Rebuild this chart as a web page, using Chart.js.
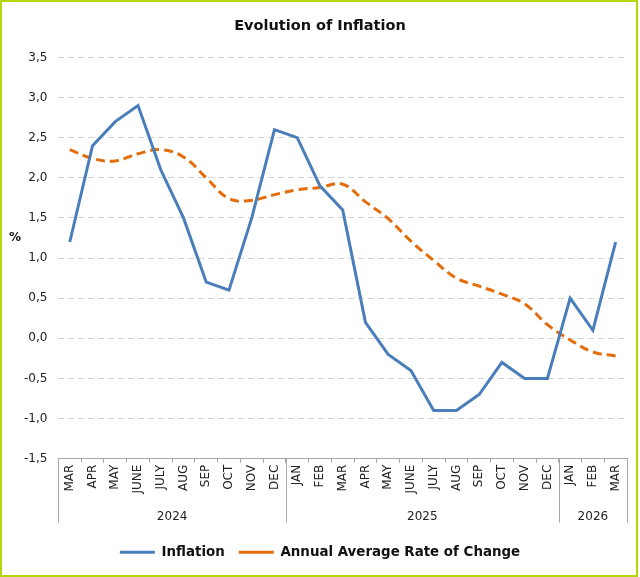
<!DOCTYPE html>
<html><head><meta charset="utf-8">
<script src="https://cdn.jsdelivr.net/npm/chart.js@4/dist/chart.umd.min.js"></script>
<style>html,body{margin:0;padding:0;background:#fff;overflow:hidden}#wrap{width:640px;height:577px;position:relative}</style>
</head><body><div id="wrap"><canvas id="c"></canvas></div>
<script>
const months = ['MAR','APR','MAY','JUNE','JULY','AUG','SEP','OCT','NOV','DEC','JAN','FEB','MAR','APR','MAY','JUNE','JULY','AUG','SEP','OCT','NOV','DEC','JAN','FEB','MAR'];
const yearLabels = ['2024','2025','2026'];
const yearSpans = [10,12,3];
const inflation = [1.2,2.4,2.7,2.9,2.1,1.5,0.7,0.6,1.5,2.6,2.5,1.9,1.6,0.2,-0.2,-0.4,-0.9,-0.9,-0.7,-0.3,-0.5,-0.5,0.5,0.1,1.2];
const annualAvg = [2.35,2.24,2.21,2.30,2.35,2.26,2.0,1.74,1.72,1.79,1.85,1.88,1.92,1.70,1.49,1.21,0.97,0.75,0.65,0.55,0.43,0.17,-0.02,-0.17,-0.22];
const yMin = -1.5, yMax = 3.5, yStep = 0.5;

const FONT = '"DejaVu Sans", Verdana, sans-serif';

const decor = {
  id: 'decor',
  beforeDraw(chart) {
    const ctx = chart.ctx;
    ctx.save();
    ctx.fillStyle = '#fff';
    ctx.fillRect(0, 0, chart.width, chart.height);
    ctx.restore();
  },
  afterDraw(chart) {
    const ctx = chart.ctx, x = chart.scales.x, ca = chart.chartArea;
    const step = x.getPixelForValue(1) - x.getPixelForValue(0);
    ctx.save();
    ctx.strokeStyle = '#a6a6a6';
    ctx.lineWidth = 1;
    let idx = 0;
    const bounds = [x.getPixelForValue(0) - step / 2];
    yearSpans.forEach(n => { idx += n; bounds.push(x.getPixelForValue(idx - 1) + step / 2); });
    const yTop = ca.bottom, yBot = x.bottom - 9;
    bounds.forEach(b => {
      const px = Math.round(b) + 0.5;
      ctx.beginPath(); ctx.moveTo(px, yTop); ctx.lineTo(px, yBot); ctx.stroke();
    });
    ctx.fillStyle = '#222';
    ctx.font = '12px ' + FONT;
    ctx.textAlign = 'center';
    ctx.textBaseline = 'middle';
    yearLabels.forEach((l, i) => ctx.fillText(l, (bounds[i] + bounds[i + 1]) / 2, x.bottom - 15));
    ctx.fillStyle = '#111';
    ctx.font = 'bold 12px ' + FONT;
    ctx.fillText('%', 15, ca.top + ca.height * 0.45);
    ctx.strokeStyle = '#b5d60b';
    ctx.lineWidth = 2;
    ctx.strokeRect(1, 1, chart.width - 4, chart.height - 2);
    ctx.restore();
  }
};

new Chart(document.getElementById('c'), {
  type: 'line',
  data: {
    labels: months,
    datasets: [
      {
        label: 'Inflation',
        data: inflation,
        borderColor: '#4a7ebb',
        backgroundColor: '#4a7ebb',
        borderWidth: 3,
        pointRadius: 0,
        tension: 0,
        borderJoinStyle: 'miter'
      },
      {
        label: 'Annual Average Rate of Change',
        data: annualAvg,
        borderColor: '#e46c0a',
        backgroundColor: '#e46c0a',
        borderWidth: 3,
        borderDash: [9, 5],
        pointRadius: 0,
        tension: 0.4
      }
    ]
  },
  options: {
    responsive: true,
    maintainAspectRatio: false,
    animation: false,
    devicePixelRatio: 1,
    layout: { padding: { left: 13, right: 13, top: 0, bottom: 8 } },
    plugins: {
      title: {
        display: true,
        text: 'Evolution of Inflation',
        color: '#111',
        font: { family: FONT, size: 14.5, weight: 'bold' },
        padding: { top: 18, bottom: 22 }
      },
      legend: {
        position: 'bottom',
        labels: {
          usePointStyle: true,
          pointStyle: 'line',
          pointStyleWidth: 35,
          padding: 14,
          color: '#111',
          font: { family: FONT, size: 13.4, weight: 'bold' }
        }
      },
      tooltip: { enabled: false }
    },
    scales: {
      x: {
        offset: true,
        grid: { offset: true, drawOnChartArea: false, drawTicks: true, tickLength: 4, color: '#a6a6a6' },
        border: { display: true, color: '#a6a6a6', width: 1 },
        ticks: {
          autoSkip: false, minRotation: 90, maxRotation: 90, padding: 2,
          color: '#222', font: { family: FONT, size: 12 }
        },
        afterFit(scale) { scale.height += 36; }
      },
      y: {
        min: yMin, max: yMax,
        grid: { color: '#d4d4d4', lineWidth: 1, drawTicks: false },
        border: { display: false, dash: [6, 4] },
        ticks: {
          stepSize: yStep, padding: 11, color: '#222',
          font: { family: FONT, size: 12 },
          callback: v => v.toFixed(1).replace('.', ',')
        }
      }
    }
  },
  plugins: [decor]
});
</script></body></html>
